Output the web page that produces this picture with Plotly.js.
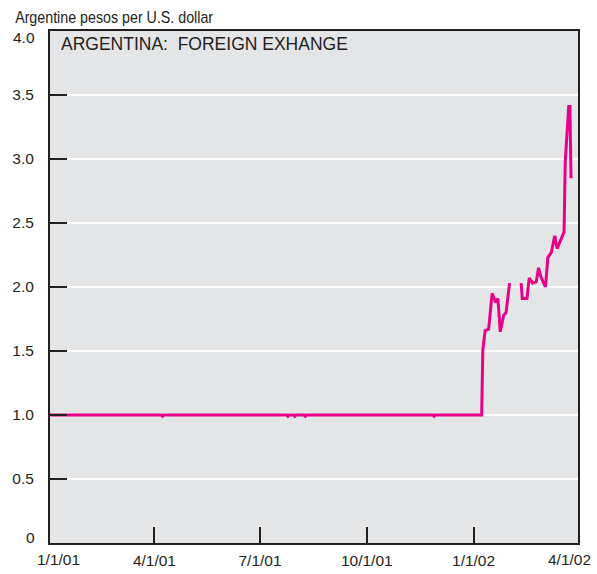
<!DOCTYPE html>
<html>
<head>
<meta charset="utf-8">
<script src="https://cdn.plot.ly/plotly-3.0.1.min.js"></script>
<style>html,body{margin:0;padding:0;background:#fff;}#chart{width:597px;height:574px;}</style>
</head>
<body>
<div id="chart"></div>
<script>
// Argentine pesos per U.S. dollar
const dates = [
  '2001-01-01','2001-04-07','2001-04-08','2001-04-09',
  '2001-07-24','2001-07-25','2001-07-26','2001-07-30','2001-07-31','2001-08-01',
  '2001-08-08','2001-08-09','2001-08-10','2001-11-27','2001-11-28','2001-11-29',
  '2002-01-08','2002-01-09','2002-01-11','2002-01-14','2002-01-17','2002-01-20',
  '2002-01-22','2002-01-24','2002-01-27','2002-01-29','2002-02-01','2002-02-02',
  '2002-02-11','2002-02-12','2002-02-16','2002-02-18','2002-02-21','2002-02-24',
  '2002-02-26','2002-02-28','2002-03-04','2002-03-06','2002-03-09','2002-03-12',
  '2002-03-14','2002-03-16','2002-03-18','2002-03-20','2002-03-21','2002-03-22',
  '2002-03-24','2002-03-25','2002-03-26'
];
const pesos = [
  1.00,1.00,0.99,1.00,
  1.00,0.99,1.00,1.00,0.99,1.00,
  1.00,0.99,1.00,1.00,0.99,1.00,
  1.00,1.51,1.66,1.67,1.95,1.88,
  1.91,1.65,1.78,1.80,2.03,null,
  2.03,1.91,1.91,2.07,2.03,2.04,
  2.15,2.08,2.00,2.23,2.27,2.40,
  2.30,2.34,2.39,2.43,2.98,3.13,
  3.41,3.41,2.85
];
const xTickVals = ['2001-01-01','2001-04-01','2001-07-01','2001-10-01','2002-01-01','2002-04-01'];
const xTickText = ['1/1/01','4/1/01','7/1/01','10/1/01','1/1/02','4/1/02'];
const yTickVals = [0,0.5,1.0,1.5,2.0,2.5,3.0,3.5,4.0];
const yTickText = ['0','0.5','1.0','1.5','2.0','2.5','3.0','3.5','4.0'];
const chartTitle = 'ARGENTINA:\u00a0 FOREIGN EXHANGE';
const unitLabel = 'Argentine pesos per U.S. dollar';

const FONT = '"Liberation Sans", Arial, sans-serif';
const INK = '#231f20';
const PLOT_W = 528, PLOT_H = 512;   // plot area size in px (for paper coords)

// inner tick labels drawn by the axis; the two end labels of each axis sit
// shifted inward (as in the reference), so they are drawn as annotations
const xAxisText = xTickText.map((t, i) => (i === 0 || i === xTickText.length - 1) ? '' : t);
const yAxisText = yTickText.map((t, i) => (i === 0 || i === yTickText.length - 1) ? '' : t);

const tickFont = {family: FONT, size: 15.5, color: INK};
const endLabels = [
  {text: xTickText[0], x: 8.5 / PLOT_W, y: -16.5 / PLOT_H, xanchor: 'center', yanchor: 'middle'},
  {text: xTickText[xTickText.length - 1], x: 519.5 / PLOT_W, y: -16.5 / PLOT_H, xanchor: 'center', yanchor: 'middle'},
  {text: yTickText[0], x: -13 / PLOT_W, y: 5.5 / PLOT_H, xanchor: 'right', yanchor: 'middle'},
  {text: yTickText[yTickText.length - 1], x: -13 / PLOT_W, y: 1 - 6.5 / PLOT_H, xanchor: 'right', yanchor: 'middle'}
].map(a => Object.assign({xref: 'paper', yref: 'paper', showarrow: false, font: tickFont}, a));

const trace = {
  x: dates, y: pesos, type: 'scatter', mode: 'lines',
  connectgaps: false,
  line: {color: '#e8008a', width: 3},
  hoverinfo: 'skip'
};

const layout = {
  width: 597, height: 574,
  margin: {l: 50, r: 19, t: 31, b: 31, pad: 0},
  paper_bgcolor: '#ffffff',
  plot_bgcolor: '#e4e5e7',
  showlegend: false,
  xaxis: {
    type: 'date',
    range: ['2001-01-01', '2002-04-01'],
    tickmode: 'array', tickvals: xTickVals, ticktext: xAxisText,
    ticks: 'inside', ticklen: 16, tickwidth: 2, tickcolor: INK,
    showgrid: false, zeroline: false,
    showline: true, linecolor: INK, linewidth: 2, mirror: true,
    tickfont: tickFont,
    ticklabelstandoff: 2,
    fixedrange: true
  },
  yaxis: {
    range: [0, 4],
    tickmode: 'array', tickvals: yTickVals, ticktext: yAxisText,
    ticks: 'inside', ticklen: 17, tickwidth: 2, tickcolor: INK,
    showgrid: true, gridcolor: '#ffffff', gridwidth: 2,
    zeroline: false,
    showline: true, linecolor: INK, linewidth: 2, mirror: true,
    tickfont: tickFont,
    ticklabelstandoff: 11,
    fixedrange: true
  },
  annotations: [
    {
      text: chartTitle, xref: 'paper', yref: 'paper',
      x: 9 / PLOT_W, y: 1 - 13 / PLOT_H, xanchor: 'left', yanchor: 'middle',
      showarrow: false,
      font: {family: FONT, size: 17.5, color: INK}
    },
    {
      text: unitLabel, xref: 'paper', yref: 'paper',
      x: 64 / PLOT_W, y: 1 + 14 / PLOT_H, xanchor: 'center', yanchor: 'middle',
      showarrow: false,
      font: {family: FONT, size: 17, color: INK}
    }
  ].concat(endLabels)
};

Plotly.newPlot('chart', [trace], layout, {displayModeBar: false, staticPlot: true}).then(gd => {
  // the reference uses a condensed face for the unit label: squeeze it to its width
  gd.querySelectorAll('.annotation-text-g text').forEach(t => {
    if (t.textContent === unitLabel) {
      t.setAttribute('textLength', '198');
      t.setAttribute('lengthAdjust', 'spacingAndGlyphs');
    }
  });
});
</script>
</body>
</html>
